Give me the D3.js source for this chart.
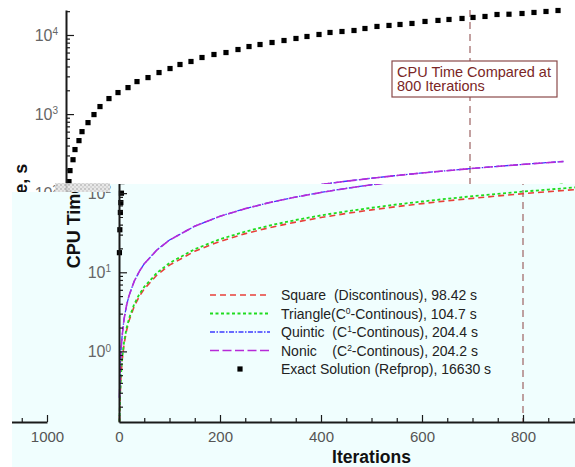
<!DOCTYPE html>
<html><head><meta charset="utf-8">
<script src="https://cdn.jsdelivr.net/npm/d3@7"></script>
<style>
html,body{margin:0;padding:0;background:#fff;}
svg{display:block;font-family:"Liberation Sans",Arial,sans-serif;}
</style></head><body>
<svg id="chart" width="575" height="467"></svg>
<script>
// Iterations at which the interpolation-table timings were sampled
const iterations = [1,2,4,6,10,15,20,30,40,50,75,100,150,200,250,300,350,400,450,500,550,600,650,700,750,800,850,900,950,985];
// CPU time (s) for each interpolation kernel
const squareTime   = [0.13,0.25,0.49,0.74,1.23,1.84,2.46,3.69,4.92,6.15,9.23,12.3,18.5,24.6,30.8,36.9,43.1,49.2,55.4,61.5,67.7,73.8,80.0,86.1,92.3,98.42,104.6,110.7,116.9,121.2];
const triangleTime = [0.13,0.26,0.52,0.79,1.31,1.96,2.62,3.93,5.24,6.54,9.82,13.1,19.6,26.2,32.7,39.3,45.8,52.4,58.9,65.4,72.0,78.5,85.1,91.6,98.2,104.7,111.2,117.8,124.3,128.9];
const quinticTime  = [0.26,0.51,1.02,1.53,2.56,3.83,5.11,7.67,10.2,12.8,19.2,25.6,38.3,51.1,63.9,76.7,89.4,102.2,115.0,127.8,140.6,153.3,166.1,178.9,191.6,204.4,217.2,230.0,242.8,251.7];
const nonicTime    = [0.26,0.51,1.02,1.53,2.55,3.83,5.10,7.66,10.2,12.8,19.1,25.5,38.3,51.1,63.8,76.6,89.3,102.1,114.9,127.6,140.4,153.2,165.9,178.7,191.4,204.2,217.0,229.7,242.5,251.4];
// Exact (Refprop) solution, symbols
const exactIter = [0.85,1.66,2.7,3.65,4.8,5.9,7.9,13.9,17.8,25.7,31.7,43.6,55.4,67.3,85.1,103,122.8,140.6,162.4,184.2,206,225.7,247.5,269.3,293,316.8,340.6,362.4,384.2,408,431.7,455.4,477.2,501,522.8,546.5,570.3,592,615.8,639.6,661.4,685.1,710.9,736.6,758.4,784.2,806,829.7,853.5,877.2,903,926.7,950.5,974.3];
const exactTime = [17.7,34.5,57,76,100,140,193,265,356,462,600,780,986,1245,1571,1871,2163,2576,2895,3351,3766,4236,4623,5192,5667,6001,6550,7146,7579,8036,8516,9035,9572,10150,10760,11070,11400,12080,12820,13200,13580,13990,14830,15280,15710,16180,16670,17150,18160,18300,18700,19270,19830,20400];

const legendLabels = [
  ["Square  (Discontinous), 98.42 s", null],
  ["Triangle(C", "0", "-Continous), 104.7 s"],
  ["Quintic  (C", "1", "-Continous), 204.4 s"],
  ["Nonic    (C", "2", "-Continous), 204.2 s"],
  ["Exact Solution (Refprop), 16630 s", null]
];
const xMajorTicks = [0,200,400,600,800,1000];
const xMinorStep = 50;
const compareIter = 800;
const noteLines = ["CPU Time Compared at", "800 Iterations"];

const seriesStyles = [
  {values: squareTime,   color: "#e8403a", dash: "6,4",          width: 1.6},
  {values: triangleTime, color: "#1fdc1f", dash: "3,2.5",        width: 1.8},
  {values: quinticTime,  color: "#3b3bff", dash: "5,1.5,1.5,1.5", width: 1.3},
  {values: nonicTime,    color: "#b62ad8", dash: "9,3.5",        width: 1.6}
];

const svg = d3.select("#chart");
const W = 575, H = 467;
const y = d3.scaleLog().domain([0.128, 20700]).range([422, 10]);

const yTickVals = [];
[-1,0,1,2,3,4].forEach(k => d3.range(1,10).forEach(m => {
  const v = m * Math.pow(10, k);
  if (v >= 0.128 && v <= 20700) yTickVals.push(+v.toPrecision(3));
}));
const isDecade = v => Math.abs(Math.log10(v) - Math.round(Math.log10(v))) < 1e-6;

function drawChart(g, x0) {
  const x = d3.scaleLinear().domain([0, 1000]).range([x0, x0 + 505]);

  // reference line at the comparison iteration
  g.append("line")
    .attr("x1", x(compareIter)).attr("x2", x(compareIter))
    .attr("y1", y.range()[1]).attr("y2", y.range()[0])
    .attr("stroke", "#a46e6e").attr("stroke-width", 1.3)
    .attr("stroke-dasharray", "7,5");

  // series lines
  seriesStyles.forEach(s => {
    const line = d3.line().x((d, i) => x(iterations[i])).y(d => y(d));
    g.append("path").datum(s.values)
      .attr("d", line).attr("fill", "none")
      .attr("stroke", s.color).attr("stroke-width", s.width)
      .attr("stroke-dasharray", s.dash);
  });

  // exact solution symbols
  g.append("g").selectAll("rect").data(exactTime).join("rect")
    .attr("x", (d, i) => x(exactIter[i]) - 2.6)
    .attr("y", d => y(d) - 2.6)
    .attr("width", 5.2).attr("height", 5.2)
    .attr("fill", "#000");

  // y axis (log)
  const ya = g.append("g").attr("transform", `translate(${x0},0)`)
    .call(d3.axisLeft(y).tickValues(yTickVals).tickSizeInner(-4).tickSizeOuter(0)
      .tickPadding(8).tickFormat(() => ""));
  ya.select(".domain").attr("stroke", "#1a1a1a").attr("stroke-width", 2);
  ya.selectAll(".tick line").attr("stroke", "#1a1a1a").attr("stroke-width", 1.2)
    .attr("x2", d => isDecade(d) ? 8 : 4);
  ya.selectAll(".tick text").filter(d => isDecade(d)).each(function(d) {
    const t = d3.select(this).attr("fill", "#666").attr("font-size", 16)
      .attr("font-family", "'Liberation Sans Narrow','Liberation Sans',Arial,sans-serif");
    t.text("10");
    t.append("tspan").attr("dy", "-0.55em").attr("font-size", 10)
      .text(Math.round(Math.log10(d)));
  });

  // x axis
  const xa = g.append("g").attr("transform", `translate(0,${y.range()[0]})`)
    .call(d3.axisBottom(x).tickValues(d3.range(0, 1001, xMinorStep))
      .tickSizeInner(-4).tickSizeOuter(0).tickPadding(9)
      .tickFormat(d => xMajorTicks.includes(d) ? d : ""));
  xa.select(".domain").attr("stroke", "#1a1a1a").attr("stroke-width", 2);
  xa.selectAll(".tick line").attr("stroke", "#1a1a1a").attr("stroke-width", 1.2)
    .attr("y2", d => xMajorTicks.includes(d) ? -7 : -4);
  xa.selectAll(".tick text").attr("fill", "#555").attr("font-size", 15);

  // axis titles
  g.append("text").attr("x", x(500)).attr("y", 463)
    .attr("text-anchor", "middle").attr("font-weight", "bold")
    .attr("font-size", 17.5).attr("fill", "#111").text("Iterations");
  g.append("text")
    .attr("transform", `translate(${x0 - 39},${(y.range()[0] + y.range()[1]) / 2}) rotate(-90)`)
    .attr("text-anchor", "middle").attr("font-weight", "bold")
    .attr("font-size", 18).attr("fill", "#111").text("CPU Time, s");

  // annotation
  const note = g.append("g").attr("transform", `translate(${x0 + 326},61)`);
  note.append("rect").attr("width", 165).attr("height", 36)
    .attr("fill", "#fff").attr("stroke", "#8a4a4a").attr("stroke-width", 1.2);
  noteLines.forEach((s, i) => note.append("text")
    .attr("x", 5).attr("y", 15.5 + i * 14.5).attr("font-size", 14.5)
    .attr("fill", "#7a2626").text(s));

  // legend
  const lg = g.append("g").attr("transform", `translate(${x0 + 91},295)`);
  legendLabels.forEach((lab, i) => {
    const row = lg.append("g").attr("transform", `translate(0,${i * 18.5})`);
    if (i < seriesStyles.length) {
      const s = seriesStyles[i];
      row.append("line").attr("x1", 0).attr("x2", 60)
        .attr("stroke", s.color).attr("stroke-width", s.width)
        .attr("stroke-dasharray", s.dash);
    } else {
      row.append("rect").attr("x", 27.4).attr("y", -2.6)
        .attr("width", 5.2).attr("height", 5.2).attr("fill", "#000");
    }
    const t = row.append("text").attr("x", 71).attr("y", 5)
      .attr("font-size", 14).attr("fill", "#222")
      .style("white-space", "pre");
    t.append("tspan").text(lab[0]);
    if (lab[1] !== null) {
      t.append("tspan").attr("dy", -5).attr("font-size", 8.5).text(lab[1]);
      t.append("tspan").attr("dy", 5).text(lab[2]);
    }
  });
}

// back layer
drawChart(svg.append("g"), 66);

// front panel
const defs = svg.append("defs");
const panelPts = [[65,184],[575,184],[575,H],[65,H]];
const panelLeft = [[12,192],[65,192],[65,H],[12,H]];
defs.append("clipPath").attr("id", "clipMain").append("polygon")
  .attr("points", [[110,184],[575,184],[575,H],[65,H],[65,192],[110,192]].join(" "));
defs.append("clipPath").attr("id", "clipWrap").append("polygon")
  .attr("points", panelLeft.join(" "));
const pat = defs.append("pattern").attr("id", "noise").attr("width", 4).attr("height", 4)
  .attr("patternUnits", "userSpaceOnUse");
pat.append("rect").attr("width", 4).attr("height", 4).attr("fill", "#e4e4e4");
pat.append("rect").attr("width", 2).attr("height", 2).attr("fill", "#bdbdbd");
pat.append("rect").attr("x", 2).attr("y", 2).attr("width", 2).attr("height", 2).attr("fill", "#cfcfcf");

svg.append("polygon")
  .attr("points", [[110,184],[575,184],[575,H],[12,H],[12,192],[110,192]].join(" "))
  .attr("fill", "#f0fefe");

drawChart(svg.append("g").attr("clip-path", "url(#clipMain)"), 119);
drawChart(svg.append("g").attr("clip-path", "url(#clipWrap)"), 119 - 577);

svg.append("rect").attr("x", 55).attr("y", 183).attr("width", 55).attr("height", 9)
  .attr("fill", "url(#noise)").attr("opacity", 0.85);
</script>
</body></html>
